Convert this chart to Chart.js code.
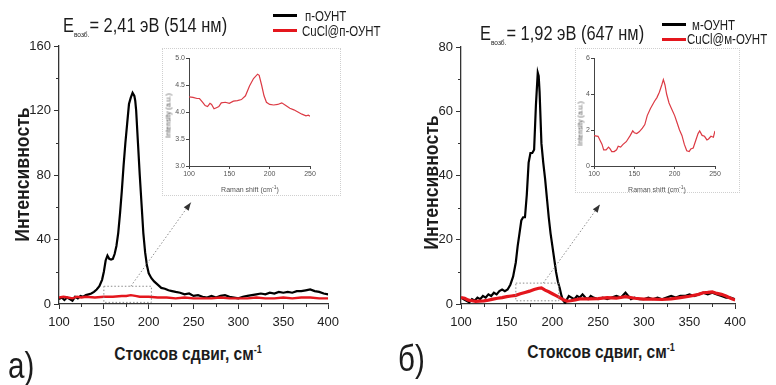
<!DOCTYPE html>
<html>
<head>
<meta charset="utf-8">
<script src="https://cdn.jsdelivr.net/npm/chart.js@4/dist/chart.umd.min.js"></script>
<style>
  body { margin: 0; background: #fff; }
  #page { position: relative; width: 776px; height: 385px; overflow: hidden; color: #1c1c1c; font-family: 'Liberation Sans', sans-serif; }
  canvas, .abs { position: absolute; }
  .abs { white-space: nowrap; line-height: 1; }
  .nar { transform: scaleX(0.82); transform-origin: 0 50%; }
  .ttl { font-size: 20px; }
  .ttl sub { font-size: 8px; vertical-align: -5px; }
  .leg { font-size: 14px; }
  .lline { position: absolute; height: 3px; }
  .xt { font-size: 19px; font-weight: bold; text-align: center; width: 220px; transform: scaleX(0.82); }
  .xt sup { font-size: 11px; vertical-align: 7px; }
  .yt { font-size: 21px; font-weight: bold; text-align: center; width: 240px; transform: rotate(-90deg) scaleX(0.84); }
  .it { font-size: 7px; color: #555; text-align: center; width: 120px; }
  .it sup { font-size: 5px; vertical-align: 3px; }
  .iyt { transform: rotate(-90deg); }
  .box { position: absolute; border: 1px dotted #cfcfcf; box-sizing: border-box; }
  .lab { font-size: 37px; transform: scaleX(0.8); transform-origin: 0 50%; }
</style>
</head>
<body>
<div id="page">
  <!-- panel a -->
  <canvas id="mainA" width="345" height="328" style="left:0;top:0"></canvas>
  <div class="box" style="left:162px;top:48px;width:179px;height:148px"></div>
  <canvas id="insetA" width="179" height="132" style="left:162px;top:48px"></canvas>
  <div class="abs it" style="left:190px;top:185px">Raman shift (cm<sup>-1</sup>)</div>
  <div class="abs it iyt" style="left:108px;top:112px">Intensity (a.u.)</div>

  <div class="abs ttl nar" style="left:63px;top:15px">E<sub>возб.</sub>= 2,41 эВ (514 нм)</div>
  <div class="lline" style="left:273px;top:14px;width:24px;background:#000"></div>
  <div class="abs leg nar" style="left:305px;top:9px">п-ОУНТ</div>
  <div class="lline" style="left:273px;top:29px;width:24px;background:#e4161d"></div>
  <div class="abs leg nar" style="left:302px;top:24px">CuCl@п-ОУНТ</div>

  <div class="abs xt" style="left:78px;top:344px">Стоксов сдвиг, см<sup>-1</sup></div>
  <div class="abs yt" style="left:-99px;top:164px">Интенсивность</div>
  <div class="abs lab" style="left:8px;top:347px">а)</div>

  <!-- panel b -->
  <canvas id="mainB" width="352" height="328" style="left:400px;top:0"></canvas>
  <div class="box" style="left:575px;top:48px;width:165px;height:145px"></div>
  <canvas id="insetB" width="165" height="132" style="left:575px;top:48px"></canvas>
  <div class="abs it" style="left:597px;top:185px">Raman shift (cm<sup>-1</sup>)</div>
  <div class="abs it iyt" style="left:520px;top:120px">Intensity (a.u.)</div>

  <div class="abs ttl nar" style="left:480px;top:23px">E<sub>возб.</sub>= 1,92 эВ (647 нм)</div>
  <div class="lline" style="left:662px;top:23px;width:24px;background:#000"></div>
  <div class="abs leg nar" style="left:692px;top:18px">м-ОУНТ</div>
  <div class="lline" style="left:662px;top:37.5px;width:24px;background:#e4161d"></div>
  <div class="abs leg nar" style="left:687px;top:32px">CuCl@м-ОУНТ</div>

  <div class="abs xt" style="left:491px;top:342px">Стоксов сдвиг, см<sup>-1</sup></div>
  <div class="abs yt" style="left:310px;top:172px">Интенсивность</div>
  <div class="abs lab" style="left:398px;top:340px">б)</div>
</div>

<script>
// ---- panel a: 514 nm ----
const shiftA_n = [100,103,106,109,112,115,118,121,124,127,130,133,136,139,142,145,148,150,152,154,156,158,160,162,164,166,168,170,172,174,176,178,180,182,184,185,186,188,190,192,194,196,198,200,203,206,210,214,218,222,226,230,235,240,245,250,255,260,265,270,275,280,285,290,295,300,305,310,315,320,325,330,335,340,345,350,355,360,365,370,375,380,385,390,395,400];
const intA_n   = [3,4,2.5,4,3,2,4.5,3.5,5,4.5,5.5,6,6.5,7.5,9,11,15,20,27,30,28,27.5,28,31,36,44,56,70,86,100,112,124,128,131,129,126,120,100,80,62,44,32,24,19,16,14,12,10,9.5,8.5,8,7.5,7,6,6.5,5,5.5,4.5,4,5,4,5,5.5,4.5,4,3.5,4.5,5,5.5,6,6.5,6,7,6.5,7.5,7,7.5,7,8,8,8.5,9,8,7.5,6.5,6];
const shiftA_cu = [100,105,110,115,120,125,130,140,150,160,170,175,180,185,190,200,210,220,230,240,250,260,270,280,290,300,310,320,330,340,350,360,370,380,390,400];
const intA_cu   = [4,4.5,4,3.5,4.5,4,4.5,4,4.5,4.5,5,5,5.5,5,4.5,4.5,4,4,3.5,4,3.5,3.5,3.5,4,3.5,3.5,3.5,4,3.5,3.5,4,3.5,4,4,3.5,3.5];
const shiftA_in = [100,105,110,113,117,120,123,126,128,131,134,137,140,145,150,155,160,165,170,175,180,185,187,190,193,196,200,205,210,215,220,225,230,235,240,245,248,250];
const intA_in   = [4.28,4.27,4.25,4.25,4.18,4.12,4.10,4.16,4.14,4.06,4.08,4.10,4.17,4.18,4.16,4.20,4.21,4.23,4.30,4.48,4.62,4.70,4.68,4.50,4.30,4.18,4.14,4.13,4.14,4.17,4.12,4.07,4.04,4.00,3.96,3.93,3.94,3.92];
const zoomBoxA = [150, 203, 1, 11];     // x1, x2, y1, y2 in data units
const arrowA   = [180, 11, 247, 63];    // from (x,y) to (x,y)

// ---- panel b: 647 nm ----
const shiftB_m = [100,103,106,109,112,115,118,121,124,127,130,133,136,139,142,145,148,151,154,157,160,162,164,166,168,170,172,174,176,178,180,182,184,185,186,188,190,192,194,196,198,200,202,204,206,208,210,212,214,216,218,221,224,227,230,233,236,239,242,245,250,255,260,265,270,275,280,283,286,290,295,300,305,310,315,320,325,330,335,340,345,350,355,360,365,370,375,380,385,390,395,400];
const intB_m   = [2,1.5,1,0.5,1.5,1,2,1.5,2.5,2,3,2.5,3.5,3,4,4.5,4,4.5,6,8.5,13,18,22,26,27,27,34,44,47,47,48,62,72,71,66,50,44,39,33,27,22,18,14,10,7,5,2.5,1,0.3,1.5,2.5,2,1.5,2.5,2,3,2,1.5,2.5,2,1.5,2,1.5,2,2.5,2,3.5,2.5,1.5,2,1.5,1.5,2,1.5,2,1.5,2,2.5,2,2.5,2.5,3,2.5,3,3.5,3,3.5,3,2.5,2,2,1.5];
const shiftB_cu = [100,104,108,112,116,120,125,130,135,140,145,150,155,160,165,170,175,180,185,188,192,196,200,204,208,212,216,220,225,230,240,250,260,270,280,290,300,310,320,330,340,350,360,365,370,375,380,385,390,395,400];
const intB_cu   = [2,1.8,1.2,1,0.8,0.9,1,1.2,1.5,1.8,2,2.3,2.5,2.7,3.2,3.6,4,4.5,4.9,5,4.3,3.8,3.2,2.6,2,1.3,0.9,1,1.3,1.6,1.6,1.7,2,1.8,2.3,1.8,1.5,1.5,1.4,1.6,2,2.4,3,3.5,3.6,3.8,3.3,3,2.5,1.8,1.2];
const shiftB_in = [100,105,110,112,115,118,120,122,125,128,130,133,136,140,145,148,150,153,156,160,163,166,170,175,178,181,184,186,188,190,193,196,200,203,206,209,212,215,218,220,223,226,229,231,234,237,240,242,245,248,250];
const intB_in   = [1.69,1.65,1.2,0.9,0.9,1.05,0.95,0.8,0.8,0.9,1.1,1.05,1.2,1.35,1.7,1.95,1.85,1.8,1.9,2.1,2.3,2.8,3.2,3.6,3.8,4.1,4.5,4.8,4.5,4.0,3.5,3.2,2.8,2.4,2.0,1.7,1.2,0.85,0.8,0.95,1.0,1.4,1.8,1.95,1.7,1.65,1.45,1.5,1.65,1.6,1.95];
const zoomBoxB = [160, 207, 1, 6.5];
const arrowB   = [190, 6.5, 252, 31];

const tickFont = { family: 'Liberation Sans', size: 13 };
const insetFont = { family: 'Liberation Sans', size: 7 };
const red = '#e4161d';
const axisColor = '#333';

const pts = (xs, ys) => xs.map((x, i) => ({ x: x, y: ys[i] }));

// dotted zoom rectangle + arrow towards the inset, and short minor ticks
const zoomMarker = (box, arrow, xMinor, yMinor) => ({
    id: 'zoomMarker',
    afterDatasetsDraw(chart) {
        const { ctx, chartArea, scales: { x, y } } = chart;
        ctx.save();
        ctx.lineWidth = 1;
        ctx.strokeStyle = axisColor;
        ctx.beginPath();
        for (let v = x.min + xMinor; v < x.max; v += 2 * xMinor) {
            const px = Math.round(x.getPixelForValue(v)) + 0.5;
            ctx.moveTo(px, chartArea.bottom);
            ctx.lineTo(px, chartArea.bottom + 3);
        }
        for (let v = y.min + yMinor; v < y.max; v += 2 * yMinor) {
            const py = Math.round(y.getPixelForValue(v)) + 0.5;
            ctx.moveTo(chartArea.left, py);
            ctx.lineTo(chartArea.left - 3, py);
        }
        ctx.stroke();

        ctx.strokeStyle = '#8c8c8c';
        ctx.setLineDash([1.5, 2]);
        const x1 = x.getPixelForValue(box[0]), x2 = x.getPixelForValue(box[1]);
        const y1 = y.getPixelForValue(box[2]), y2 = y.getPixelForValue(box[3]);
        ctx.strokeRect(x1, y2, x2 - x1, y1 - y2);
        const ax = x.getPixelForValue(arrow[0]), ay = y.getPixelForValue(arrow[1]);
        const bx = x.getPixelForValue(arrow[2]), by = y.getPixelForValue(arrow[3]);
        ctx.beginPath();
        ctx.moveTo(ax, ay);
        ctx.lineTo(bx, by);
        ctx.stroke();
        ctx.setLineDash([]);
        const ang = Math.atan2(by - ay, bx - ax);
        ctx.fillStyle = '#333';
        ctx.beginPath();
        ctx.moveTo(bx, by);
        ctx.lineTo(bx - 8 * Math.cos(ang) + 3 * Math.sin(ang), by - 8 * Math.sin(ang) - 3 * Math.cos(ang));
        ctx.lineTo(bx - 8 * Math.cos(ang) - 3 * Math.sin(ang), by - 8 * Math.sin(ang) + 3 * Math.cos(ang));
        ctx.closePath();
        ctx.fill();
        ctx.restore();
    }
});

const mainAxis = (min, max, step, fitFn, pad) => ({
    type: 'linear', min: min, max: max,
    ticks: { stepSize: step, font: tickFont, color: '#222', maxRotation: 0, padding: pad, autoSkip: false },
    grid: { drawOnChartArea: false, drawTicks: true, tickLength: 5, color: axisColor },
    border: { color: axisColor, width: 1.3 },
    afterFit: fitFn
});

const insetAxis = (min, max, step, fitFn, fmt) => ({
    type: 'linear', min: min, max: max,
    ticks: { stepSize: step, font: insetFont, color: '#555', maxRotation: 0, padding: 1, autoSkip: false, callback: fmt },
    grid: { drawOnChartArea: false, drawTicks: true, tickLength: 3, color: '#444' },
    border: { color: '#444', width: 1 },
    afterFit: fitFn
});

const makeMain = (id, black, cu, cuWidth, yMax, yStep, pad, box, arrow) => {
    new Chart(document.getElementById(id), {
        type: 'line',
        data: {
            datasets: [
                { data: cu, borderColor: red, borderWidth: cuWidth, pointRadius: 0, tension: 0 },
                { data: black, borderColor: '#000', borderWidth: 2.2, pointRadius: 0, tension: 0 }
            ]
        },
        options: {
            responsive: false, animation: false, devicePixelRatio: 1,
            layout: { padding: pad },
            plugins: { legend: { display: false }, tooltip: { enabled: false } },
            scales: {
                x: mainAxis(100, 400, 50, s => { s.height = 24; }, 6),
                y: mainAxis(0, yMax, yStep, s => { s.width = 40; }, 3)
            }
        },
        plugins: [zoomMarker(box, arrow, 25, yStep / 2)]
    });
};

const makeInset = (id, data, yMin, yMax, yStep, yWidth, pad, fmt) => {
    new Chart(document.getElementById(id), {
        type: 'line',
        data: { datasets: [{ data: data, borderColor: '#dc3a44', borderWidth: 1.2, pointRadius: 0, tension: 0 }] },
        options: {
            responsive: false, animation: false, devicePixelRatio: 1,
            layout: { padding: pad },
            plugins: { legend: { display: false }, tooltip: { enabled: false } },
            scales: {
                x: insetAxis(100, 250, 50, s => { s.height = 12; }),
                y: insetAxis(yMin, yMax, yStep, s => { s.width = yWidth; }, fmt)
            }
        }
    });
};

makeMain('mainA', pts(shiftA_n, intA_n), pts(shiftA_cu, intA_cu), 2.4, 160, 40,
    { left: 19, top: 46, right: 11, bottom: 0 }, zoomBoxA, arrowA);
makeMain('mainB', pts(shiftB_m, intB_m), pts(shiftB_cu, intB_cu), 3.2, 80, 20,
    { left: 21, top: 47, right: 12, bottom: 0 }, zoomBoxB, arrowB);

makeInset('insetA', pts(shiftA_in, intA_in), 3, 5, 0.5, 20,
    { left: 7, top: 10, right: 31, bottom: 2 }, v => v.toFixed(1));
makeInset('insetB', pts(shiftB_in, intB_in), 0, 6, 2, 13,
    { left: 6, top: 10, right: 25, bottom: 2 }, v => v);
</script>
</body>
</html>
